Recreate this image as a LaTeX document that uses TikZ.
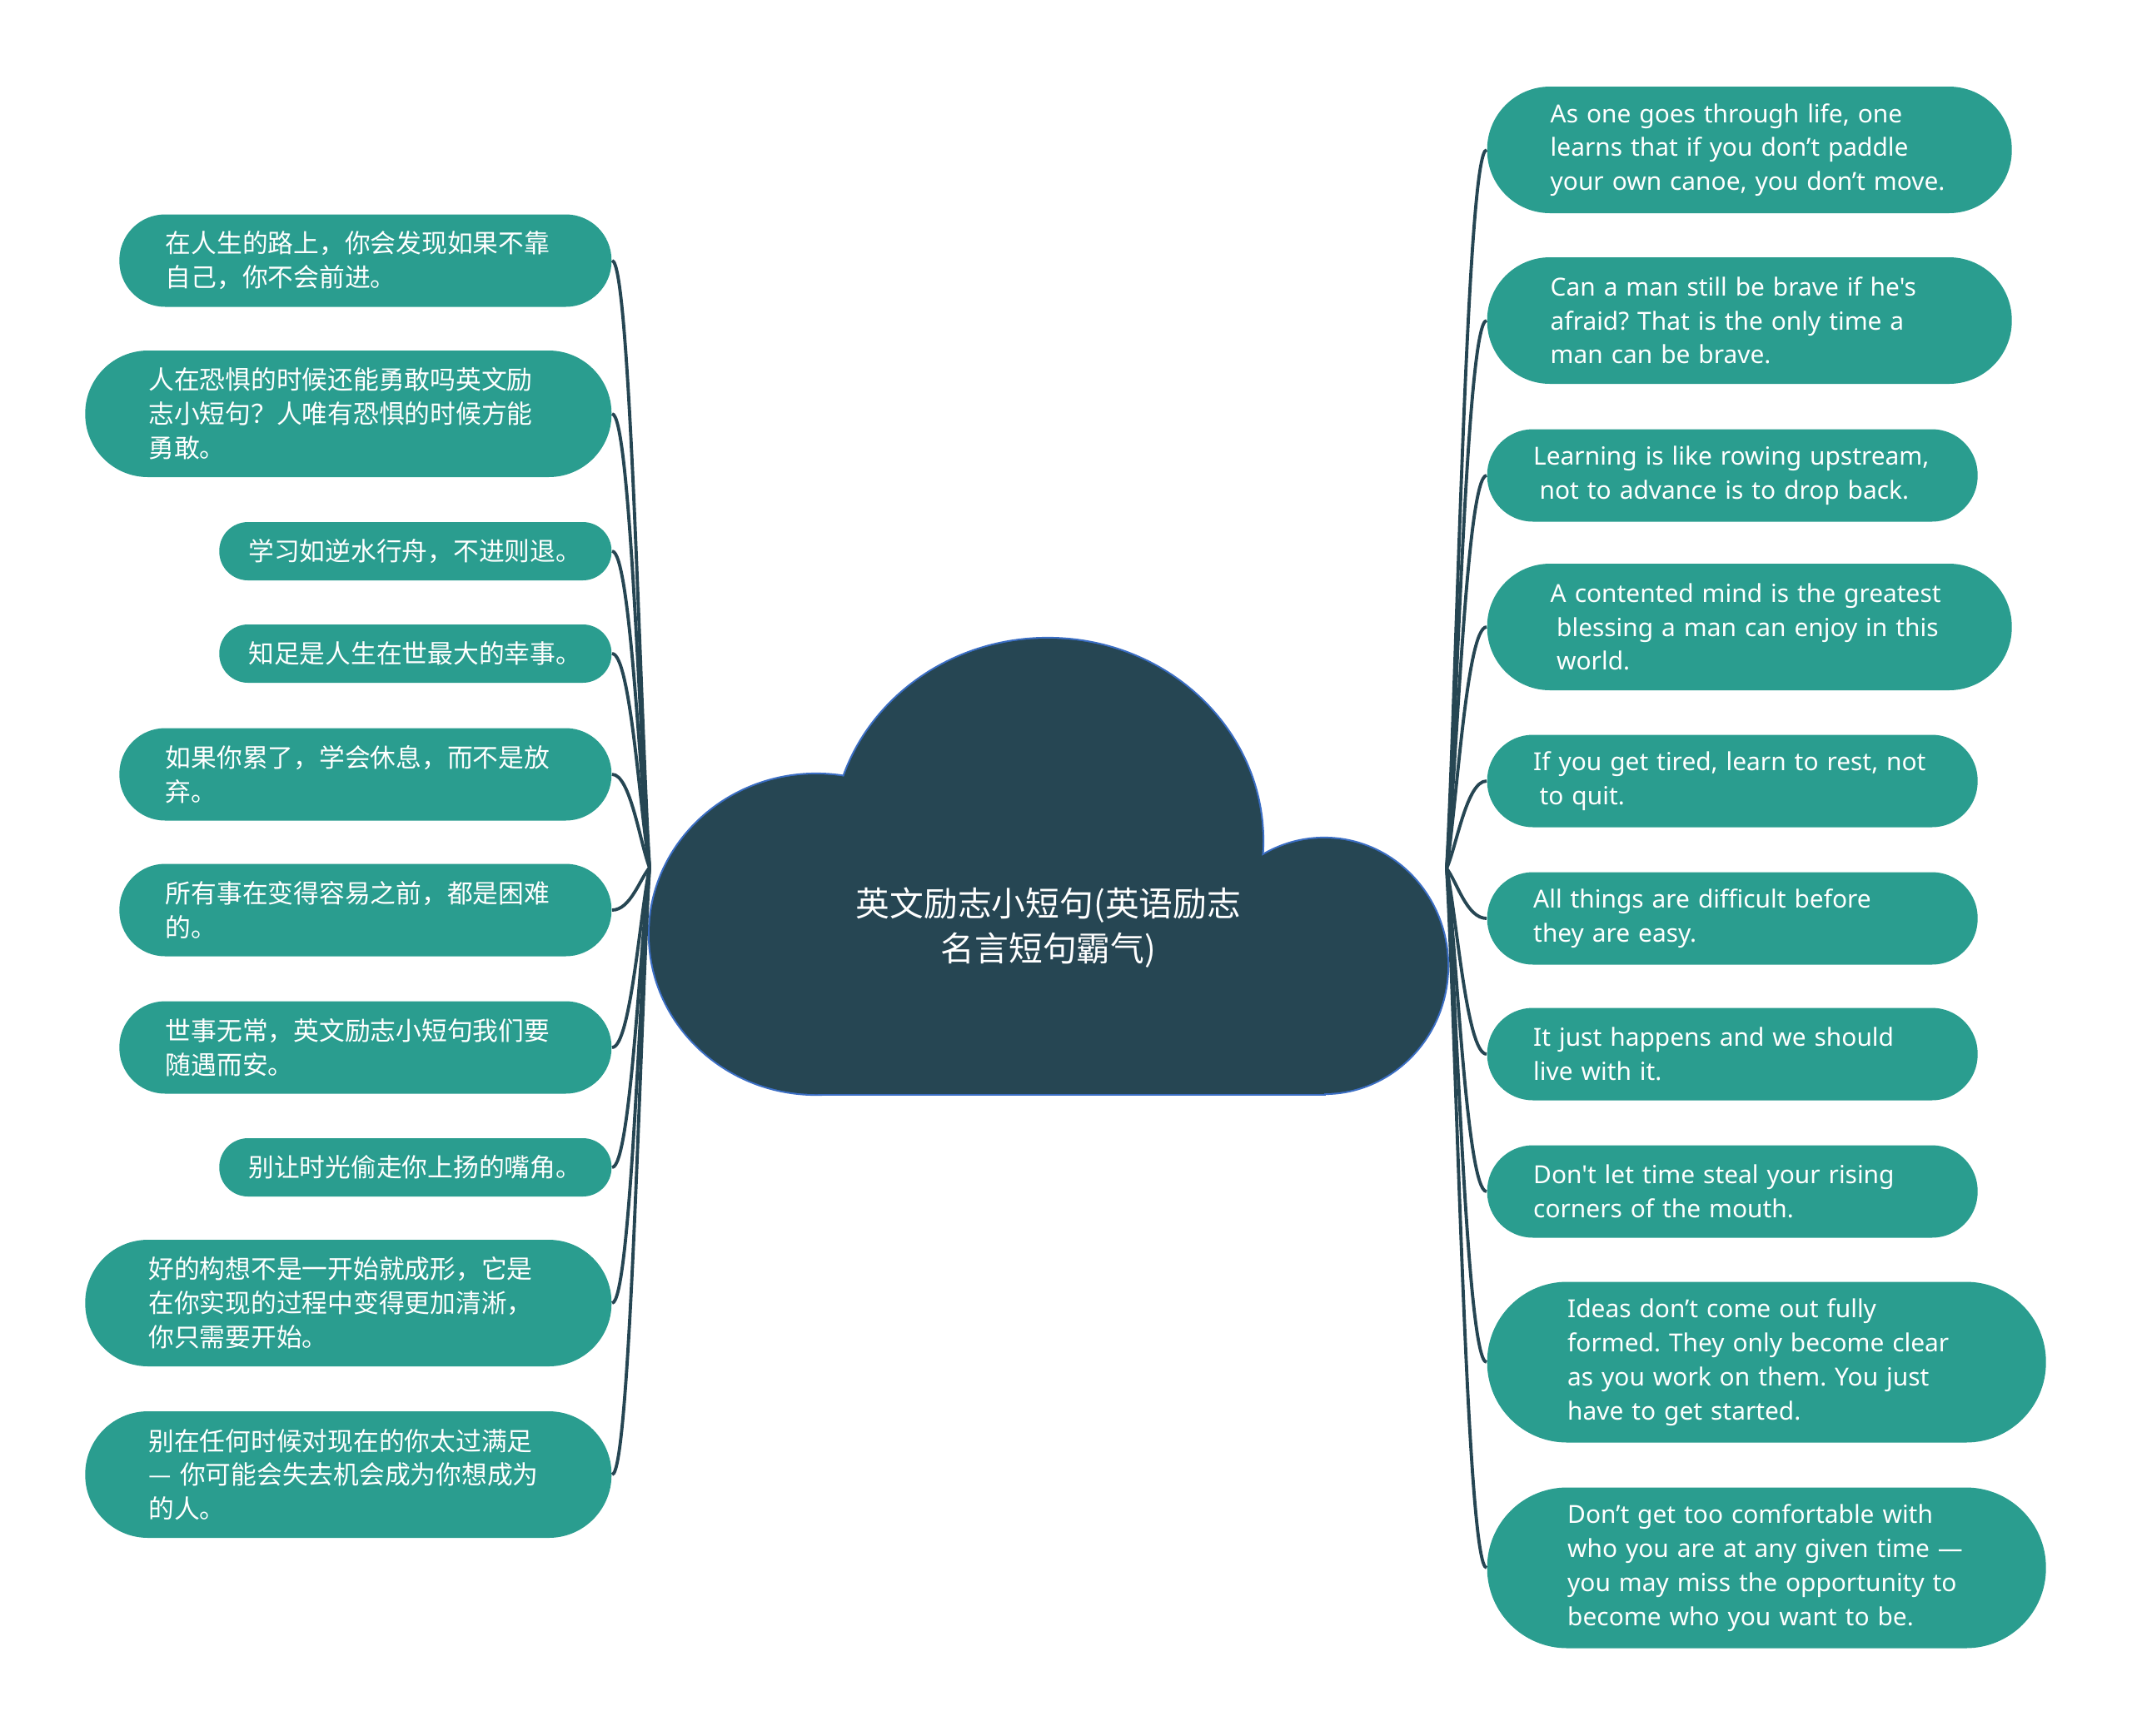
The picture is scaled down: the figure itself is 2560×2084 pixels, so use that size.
\documentclass[tikz,border=0pt]{standalone}
\usepackage{fontspec}
\usetikzlibrary{calc}
\newfontfamily\cjk{Noto Sans CJK SC}
\newfontfamily\latinsans[Ligatures=TeXOff]{Noto Sans}
\definecolor{hubslate}{HTML}{264653}
\definecolor{hubrim}{HTML}{3B6EC4}
\definecolor{leafteal}{HTML}{2A9D8F}
\frenchspacing
\tikzset{
  leaf/.style={fill=leafteal,text=white,align=left,inner ysep=0pt},
  zh/.style={leaf,font=\cjk\fontsize{8.75}{11.6}\selectfont},
  en/.style={leaf,font=\latinsans\fontsize{8.5}{11.6}\selectfont},
  lone/.style={minimum height=7mm,inner xsep=3.5mm,text width=40.1mm,rounded corners=3.45mm},
  ltwo/.style={minimum height=11.1mm,inner xsep=5.55mm,text width=48mm,rounded corners=5.5mm},
  lthree/.style={minimum height=15.2mm,inner xsep=7.6mm,text width=48mm,rounded corners=7.55mm},
  rtwo/.style={minimum height=11.1mm,inner xsep=5.55mm,text width=47.8mm,rounded corners=5.5mm},
  rthree/.style={minimum height=15.2mm,inner xsep=7.6mm,text width=47.8mm,rounded corners=7.55mm},
  rfour/.style={minimum height=19.3mm,inner xsep=9.65mm,text width=47.8mm,rounded corners=9.6mm},
  twig/.style={draw=hubslate,line width=1.1pt,
    to path={.. controls ($(\tikztostart)!.25!(\tikztotarget)$) and ($(\tikztotarget)+(#1,0)$) .. (\tikztotarget)}}
}
\begin{document}
\begin{tikzpicture}[x=.1mm,y=-.1mm]
\useasboundingbox (0,0) rectangle (2560,2084);
\draw[hubrim,line width=1.2pt] (980,1122) ellipse [x radius=200,y radius=192];
\draw[hubrim,line width=1.2pt] (1258,1010) ellipse [x radius=258,y radius=243];
\draw[hubrim,line width=1.2pt] (1590,1160) ellipse [x radius=148,y radius=153];
\draw[hubrim,line width=1.2pt] (980,1100) rectangle (1590,1314);
\fill[hubslate] (980,1122) ellipse [x radius=200,y radius=192];
\fill[hubslate] (1258,1010) ellipse [x radius=258,y radius=243];
\fill[hubslate] (1590,1160) ellipse [x radius=148,y radius=153];
\fill[hubslate] (980,1100) rectangle (1590,1314);
\node[text=white,align=center,font=\cjk\fontsize{11.6}{15.4}\selectfont] (hub) at (1259,1114) {英文励志小短句(英语励志\\名言短句霸气)};
\coordinate (lfan) at (780,1042);\coordinate (rfan) at (1737,1043);

\node[zh,ltwo,anchor=east] (l1) at (735,313) {在人生的路上，你会发现如果不靠\\自己，你不会前进。};
\node[zh,lthree,anchor=east] (l2) at (735,497) {人在恐惧的时候还能勇敢吗英文励\\志小短句？人唯有恐惧的时候方能\\勇敢。};
\node[zh,lone,anchor=east] (l3) at (735,662) {学习如逆水行舟，不进则退。};
\node[zh,lone,anchor=east] (l4) at (735,785) {知足是人生在世最大的幸事。};
\node[zh,ltwo,anchor=east] (l5) at (735,930) {如果你累了，学会休息，而不是放\\弃。};
\node[zh,ltwo,anchor=east] (l6) at (735,1093) {所有事在变得容易之前，都是困难\\的。};
\node[zh,ltwo,anchor=east] (l7) at (735,1258) {世事无常，英文励志小短句我们要\\随遇而安。};
\node[zh,lone,anchor=east] (l8) at (735,1402) {别让时光偷走你上扬的嘴角。};
\node[zh,lthree,anchor=east] (l9) at (735,1565) {好的构想不是一开始就成形，它是\\在你实现的过程中变得更加清淅，\\你只需要开始。};
\node[zh,lthree,anchor=east] (l10) at (735,1771) {别在任何时候对现在的你太过满足\\— 你可能会失去机会成为你想成为\\的人。};

\node[en,rthree,anchor=west] (r1) at (1785,180) {As one goes through life, one\\learns that if you don’t paddle\\your own canoe, you don’t move.};
\node[en,rthree,anchor=west] (r2) at (1785,385) {Can a man still be brave if he's\\afraid? That is the only time a\\man can be brave.};
\node[en,rtwo,anchor=west] (r3) at (1785,571) {Learning is like rowing upstream,\\\hspace*{.25em}not to advance is to drop back.};
\node[en,rthree,anchor=west] (r4) at (1785,753) {A contented mind is the greatest\\\hspace*{.25em}blessing a man can enjoy in this\\\hspace*{.25em}world.};
\node[en,rtwo,anchor=west] (r5) at (1785,938) {If you get tired, learn to rest, not\\\hspace*{.25em}to quit.};
\node[en,rtwo,anchor=west] (r6) at (1785,1103) {All things are difficult before\\they are easy.};
\node[en,rtwo,anchor=west] (r7) at (1785,1266) {It just happens and we should\\live with it.};
\node[en,rtwo,anchor=west] (r8) at (1785,1431) {Don't let time steal your rising\\corners of the mouth.};
\node[en,rfour,anchor=west] (r9) at (1785,1636) {Ideas don’t come out fully\\formed. They only become clear\\as you work on them. You just\\have to get started.};
\node[en,rfour,anchor=west] (r10) at (1785,1883) {Don’t get too comfortable with\\who you are at any given time —\\you may miss the opportunity to\\become who you want to be.};

\draw[twig=22] (lfan) to (l1.east);\draw[twig=22] (lfan) to (l2.east);\draw[twig=22] (lfan) to (l3.east);
\draw[twig=22] (lfan) to (l4.east);\draw[twig=22] (lfan) to (l5.east);\draw[twig=22] (lfan) to (l6.east);
\draw[twig=22] (lfan) to (l7.east);\draw[twig=22] (lfan) to (l8.east);\draw[twig=22] (lfan) to (l9.east);
\draw[twig=22] (lfan) to (l10.east);
\draw[twig=-24] (rfan) to (r1.west);\draw[twig=-24] (rfan) to (r2.west);\draw[twig=-24] (rfan) to (r3.west);
\draw[twig=-24] (rfan) to (r4.west);\draw[twig=-24] (rfan) to (r5.west);\draw[twig=-24] (rfan) to (r6.west);
\draw[twig=-24] (rfan) to (r7.west);\draw[twig=-24] (rfan) to (r8.west);\draw[twig=-24] (rfan) to (r9.west);
\draw[twig=-24] (rfan) to (r10.west);
\end{tikzpicture}
\end{document}
